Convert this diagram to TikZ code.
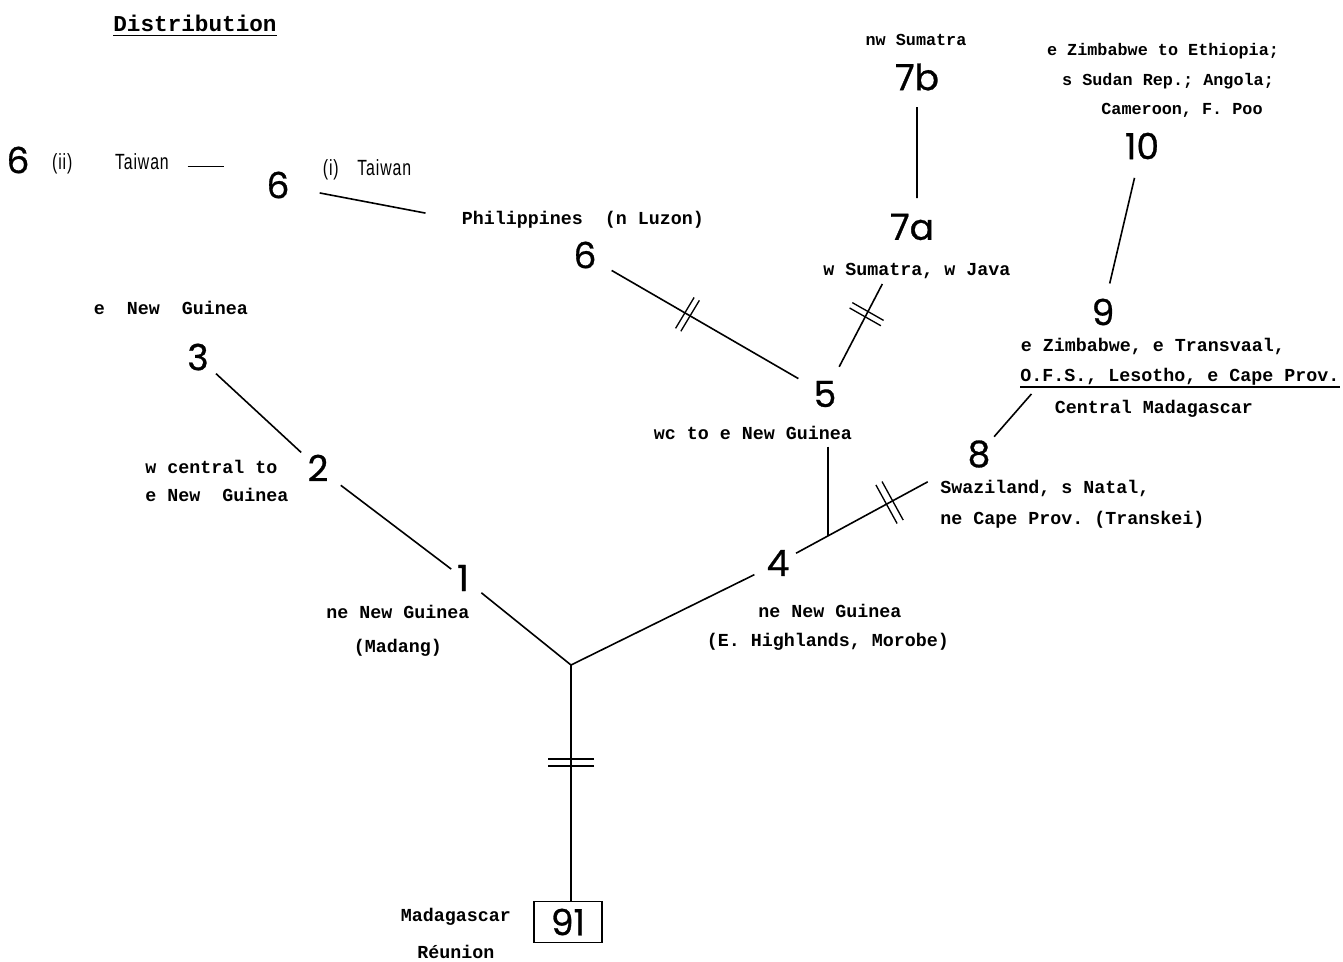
\documentclass[tikz,border=0pt]{standalone}
\usepackage{fontspec}
\setmainfont{Liberation Mono}
\newfontfamily\numfont[FakeBold=0.8]{Poppins}
\newfontfamily\twfont[FakeStretch=0.72,LetterSpace=4]{Liberation Sans}
\usetikzlibrary{calc}
\frenchspacing
\newcommand\dbltick[5]{%
  \draw[tick] ($(#1)+(#2:#5)+(#3:#4)$) -- ($(#1)+(#2:#5)-(#3:#4)$);
  \draw[tick] ($(#1)-(#2:#5)+(#3:#4)$) -- ($(#1)-(#2:#5)-(#3:#4)$);}
\begin{document}
\frenchspacing
\begin{tikzpicture}[x=0.75pt,y=-0.75pt,
  lab/.style={font=\fontsize{13.75}{16}\selectfont\bfseries\frenchspacing, inner sep=0pt},
  labs/.style={font=\fontsize{12.6}{15}\selectfont\bfseries\frenchspacing, inner sep=0pt},
  ttl/.style={font=\fontsize{17}{20}\selectfont\bfseries, inner sep=0pt},
  tw/.style={font=\twfont\fontsize{16.5}{18}\selectfont, inner sep=0pt},
  num/.style={font=\numfont\fontsize{27}{30}\selectfont, inner sep=0pt},
  edge/.style={line width=1.2pt},
  tick/.style={line width=1pt}]
\fill[white] (0,0) rectangle (1343,961);
\useasboundingbox (0,0) rectangle (1343,961);

% title
\node[ttl] (title) at (195,23) {Distribution};
\draw[line width=1pt] ([yshift=-3.5pt]title.base west) -- ([yshift=-3.5pt]title.base east);

% Taiwan
\node[num] (n6ii) at (18,160) {6};
\node[tw] (l6ii) at (110.5,164) {(ii)\hspace{32pt}Taiwan};
\node[num] (n6i) at (278,185) {6};
\node[tw] (l6i) at (367,170) {(i)\hspace{14pt}Taiwan};
\node[lab] (lphil) at (583,220) {Philippines\ \ (n Luzon)};
\node[num] (n6) at (585,255) {6};

% 5, 7a, 7b
\node[num] (n5) at (825,394) {5};
\node[lab] (l5) at (753,433) {wc to e New Guinea};
\node[num] (n7a) at (912,227) {7a};
\node[lab] (l7a) at (917,271) {w Sumatra, w Java};
\node[num] (n7b) at (917,77) {7b};
\node[labs] (l7b) at (916,40) {nw Sumatra};

% 10, 9, 8
\node[labs] (l10a) at (1163,51) {e Zimbabwe to Ethiopia;};
\node[labs] (l10b) at (1168,81) {s Sudan Rep.; Angola;};
\node[labs] (l10c) at (1182,110) {Cameroon, F. Poo};
\node[num] (n10) at (1142,146) {10};
\node[num] (n9) at (1103,312) {9};
\node[lab] (l9a) at (1153,346) {e Zimbabwe, e Transvaal,};
\node[lab, anchor=west] (l9b) at (1020,377) {O.F.S., Lesotho, e Cape Prov.};
\draw[line width=1pt] ([yshift=-4pt]l9b.base west) -- ([yshift=-4pt]l9b.base east);
\node[lab] (l9c) at (1154,409) {Central Madagascar};
\node[num] (n8) at (979,454) {8};
\node[lab, anchor=west] (l8a) at (940,488) {Swaziland, s Natal,};
\node[lab, anchor=west] (l8b) at (940,520) {ne Cape Prov. (Transkei)};

% 4
\node[num] (n4) at (778,563) {4};
\node[lab] (l4a) at (830,611) {ne New Guinea};
\node[lab] (l4b) at (828,642) {(E. Highlands, Morobe)};

% 1, 2, 3
\node[num] (n1) at (463,578) {1};
\node[lab] (l1a) at (398,612) {ne New Guinea};
\node[lab] (l1b) at (398,648) {(Madang)};
\node[num] (n2) at (318,468) {2};
\node[lab, anchor=west] (l2a) at (145,467) {w central to};
\node[lab, anchor=west] (l2b) at (145,495) {e New\ \ Guinea};
\node[num] (n3) at (198,357) {3};
\node[lab] (l3) at (171,308) {e\ \ New\ \ Guinea};

% root and 91
\coordinate (root) at (571,665);
\node[num, draw, line width=1.2pt, minimum width=51pt, minimum height=30.75pt] (n91) at (568,922) {91};
\node[lab] (lmad) at (456,917) {Madagascar};
\node[lab] (lreu) at (456,952) {Réunion};

% connectors
\draw[edge] ($(n3)!0.15!(n2)$) -- ($(n3)!0.86!(n2)$);
\draw[edge] ($(n2)!0.157!(n1)$) -- ($(n2)!0.919!(n1)$);
\draw[edge] ($(n1)!0.17!(root)$) -- (root);
\draw[edge] (root) -- ($(root)!0.886!(n4)$);
\draw[edge] ($(n4)!0.09!(n8)$) -- ($(n4)!0.745!(n8)$);
\coordinate (j) at ($(n4)!0.249!(n8)$);
\draw[edge, shorten <=5pt] (j |- l5.south) -- (j);
\draw[edge] ($(n6)!0.111!(n5)$) -- ($(n6)!0.889!(n5)$);
\draw[edge] ($(n5)!0.163!(n7a)$) -- ($(n5)!0.659!(n7a)$);
\draw[edge] ($(n7b)!0.2!(n7b|-n7a)$) -- ($(n7b)!0.807!(n7b|-n7a)$);
\draw[edge] ($(n9)!0.172!(n10)$) -- ($(n9)!0.808!(n10)$);
\draw[edge] ($(n8)!0.122!(n9)$) -- ($(n8)!0.423!(n9)$);
\draw[edge] ($(n6i)!0.227!(lphil.west)$) -- ($(n6i)!0.803!(lphil.west)$);
\draw[edge] ([xshift=14pt,yshift=-2pt]l6ii.east) -- ([xshift=41pt,yshift=-2pt]l6ii.east);
\draw[edge] (root) -- (root |- n91.north);

% double ticks
\coordinate (t65) at ($(n6)!0.427!(n5)$);
\dbltick{t65}{29.4}{-59}{18}{3}
\coordinate (t57) at ($(n5)!0.478!(n7a)$);
\dbltick{t57}{-63.2}{29.6}{18}{3}
\coordinate (t48) at ($(n4)!0.555!(n8)$);
\dbltick{t48}{-28.9}{61.2}{22}{3.5}
\coordinate (tr) at (571,762.5);
\dbltick{tr}{90}{0}{23}{3.5}
\end{tikzpicture}
\end{document}
